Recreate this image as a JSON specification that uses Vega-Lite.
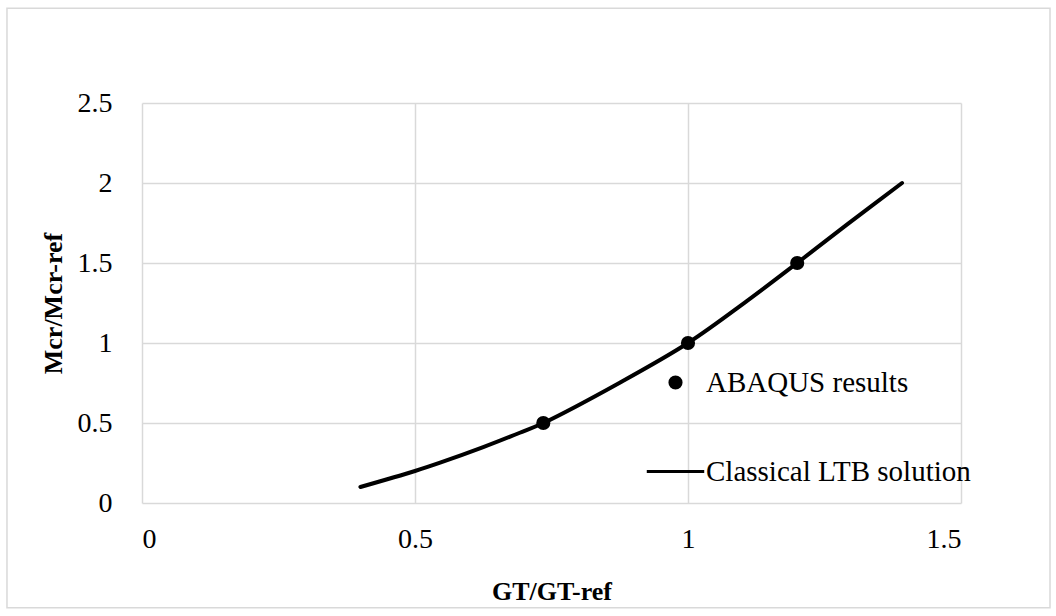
{
  "$schema": "https://vega.github.io/schema/vega-lite/v6.json",
  "width": 819,
  "height": 400,
  "autosize": "none",
  "padding": {"left": 142, "top": 103, "right": 95, "bottom": 113},
  "background": "white",
  "config": {
    "font": "Liberation Serif",
    "view": {"stroke": null},
    "axis": {
      "labelFont": "Liberation Serif",
      "labelFontSize": 28,
      "labelColor": "black",
      "titleFont": "Liberation Serif",
      "titleFontWeight": "bold",
      "titleFontSize": 26,
      "titleColor": "black",
      "gridColor": "#d9d9d9",
      "gridWidth": 1.5,
      "domain": false,
      "ticks": false
    }
  },
  "datasets": {
    "abaqus": [
      {"g": 0.735, "m": 0.5, "series": "ABAQUS results"},
      {"g": 1.0, "m": 1.0, "series": "ABAQUS results"},
      {"g": 1.2, "m": 1.5, "series": "ABAQUS results"}
    ],
    "classical": [
      {"g": 0.4, "m": 0.1, "series": "Classical LTB solution"},
      {"g": 0.5, "m": 0.2, "series": "Classical LTB solution"},
      {"g": 0.546, "m": 0.252, "series": "Classical LTB solution"},
      {"g": 0.625, "m": 0.349, "series": "Classical LTB solution"},
      {"g": 0.692, "m": 0.439, "series": "Classical LTB solution"},
      {"g": 0.735, "m": 0.5, "series": "Classical LTB solution"},
      {"g": 0.875, "m": 0.752, "series": "Classical LTB solution"},
      {"g": 1.0, "m": 1.0, "series": "Classical LTB solution"},
      {"g": 1.107, "m": 1.26, "series": "Classical LTB solution"},
      {"g": 1.2, "m": 1.5, "series": "Classical LTB solution"},
      {"g": 1.291, "m": 1.74, "series": "Classical LTB solution"},
      {"g": 1.392, "m": 2.0, "series": "Classical LTB solution"}
    ]
  },
  "layer": [
    {
      "data": {"name": "classical"},
      "mark": {"type": "line", "interpolate": "catmull-rom", "strokeWidth": 4, "strokeCap": "round"},
      "encoding": {
        "x": {
          "field": "g", "type": "quantitative",
          "scale": {"domain": [0, 1.5], "nice": false, "zero": false},
          "axis": {"values": [0, 0.5, 1, 1.5], "format": "~g", "labelPadding": 22, "title": "GT/GT-ref", "titlePadding": 25}
        },
        "y": {
          "field": "m", "type": "quantitative",
          "scale": {"domain": [0, 2.5], "nice": false, "zero": false},
          "axis": {"values": [0, 0.5, 1, 1.5, 2, 2.5], "format": "~g", "labelPadding": 30, "title": "Mcr/Mcr-ref", "titlePadding": 11}
        },
        "color": {
          "field": "series", "type": "nominal",
          "scale": {"domain": ["ABAQUS results", "Classical LTB solution"], "range": ["black", "black"]},
          "legend": {
            "orient": "none",
            "legendX": 519,
            "legendY": 265,
            "title": null,
            "labelFont": "Liberation Serif",
            "labelFontSize": 29,
            "labelColor": "black",
            "labelLimit": 0,
            "labelOffset": 16,
            "symbolSize": 2601,
            "rowPadding": 59,
            "encode": {
              "symbols": {
                "update": {
                  "shape": {"signal": "datum.value === 'ABAQUS results' ? 'circle' : 'stroke'"},
                  "size": {"signal": "datum.value === 'ABAQUS results' ? 200 : 3300"},
                  "fill": {"value": "black"},
                  "stroke": {"value": "black"},
                  "fillOpacity": {"value": 1},
                  "strokeWidth": {"signal": "datum.value === 'ABAQUS results' ? 0 : 3"}
                }
              }
            }
          }
        }
      }
    },
    {
      "data": {"name": "abaqus"},
      "mark": {"type": "point", "filled": true, "size": 200, "opacity": 1},
      "encoding": {
        "x": {"field": "g", "type": "quantitative"},
        "y": {"field": "m", "type": "quantitative"},
        "color": {"field": "series", "type": "nominal"}
      }
    },
    {
      "data": {"values": [{"frame": "chart border"}]},
      "mark": {"type": "rect", "filled": false, "fillOpacity": 0, "stroke": "#d9d9d9", "strokeWidth": 1.5, "clip": false},
      "encoding": {
        "x": {"datum": -0.2473, "type": "quantitative"},
        "x2": {"datum": 1.663},
        "y": {"datum": 3.092, "type": "quantitative"},
        "y2": {"datum": -0.655}
      }
    }
  ]
}
